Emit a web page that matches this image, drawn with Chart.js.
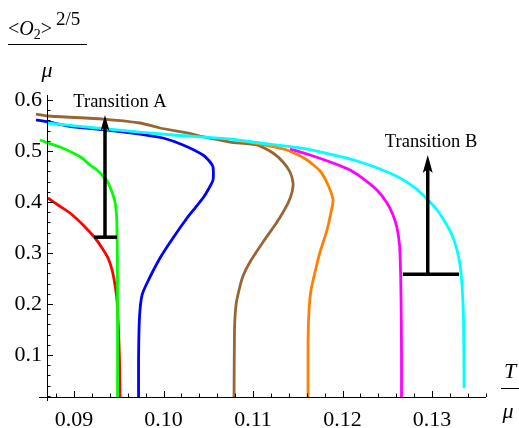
<!DOCTYPE html>
<html>
<head>
<meta charset="utf-8">
<script src="https://cdn.jsdelivr.net/npm/chart.js@4.4.1/dist/chart.umd.min.js"></script>
<style>
  html, body { margin: 0; padding: 0; background: #fff; }
</style>
</head>
<body>
<canvas id="chart" width="519" height="428"></canvas>
<script>
// x = T/mu, y = <O2>^(2/5)/mu
const redX = [0.08709, 0.08821, 0.08955, 0.09101, 0.09235, 0.09313, 0.09380, 0.09425, 0.09458, 0.09480, 0.09497, 0.09508, 0.09514];
const redY = [0.4078, 0.3941, 0.3784, 0.3549, 0.3294, 0.3098, 0.2902, 0.2667, 0.2373, 0.2078, 0.1490, 0.0902, 0.0150];

const greenX = [0.08620, 0.08709, 0.08844, 0.08989, 0.09089, 0.09179, 0.09257, 0.09313, 0.09369, 0.09402, 0.09436, 0.09458, 0.09475, 0.09480, 0.09484, 0.09486, 0.09486];
const greenY = [0.5216, 0.5157, 0.5078, 0.4961, 0.4863, 0.4725, 0.4627, 0.4529, 0.4412, 0.4294, 0.4137, 0.4000, 0.3745, 0.3451, 0.2863, 0.2078, 0.0150];

const blueX = [0.08575, 0.08709, 0.08989, 0.09369, 0.09737, 0.09994, 0.10218, 0.10441, 0.10520, 0.10553, 0.10553, 0.10497, 0.10441, 0.10352, 0.10263, 0.10106, 0.09961, 0.09816, 0.09760, 0.09737, 0.09726, 0.09721, 0.09721];
const blueY = [0.5608, 0.5569, 0.5471, 0.5412, 0.5333, 0.5255, 0.5118, 0.4922, 0.4784, 0.4686, 0.4431, 0.4235, 0.4078, 0.3882, 0.3686, 0.3294, 0.2902, 0.2412, 0.2176, 0.1882, 0.1490, 0.0902, 0.0150];

const brownX = [0.08575, 0.08709, 0.09324, 0.09737, 0.09961, 0.10263, 0.10408, 0.10743, 0.11045, 0.11223, 0.11335, 0.11413, 0.11447, 0.11436, 0.11391, 0.11268, 0.11112, 0.10966, 0.10888, 0.10844, 0.10810, 0.10793, 0.10788];
const brownY = [0.5725, 0.5686, 0.5627, 0.5549, 0.5451, 0.5353, 0.5294, 0.5176, 0.5118, 0.4961, 0.4784, 0.4588, 0.4373, 0.4196, 0.3980, 0.3608, 0.3216, 0.2824, 0.2549, 0.2275, 0.1980, 0.1490, 0.0150];

const orangeX = [0.10855, 0.11078, 0.11380, 0.11603, 0.11749, 0.11838, 0.11894, 0.11872, 0.11827, 0.11749, 0.11693, 0.11648, 0.11626, 0.11615, 0.11615];
const orangeY = [0.5196, 0.5137, 0.5020, 0.4824, 0.4608, 0.4333, 0.4039, 0.3804, 0.3451, 0.3020, 0.2627, 0.2275, 0.1882, 0.1294, 0.0150];

const magentaX = [0.11413, 0.11637, 0.11894, 0.12084, 0.12251, 0.12385, 0.12497, 0.12564, 0.12609, 0.12637, 0.12648, 0.12654, 0.12659, 0.12659];
const magentaY = [0.5039, 0.4922, 0.4765, 0.4627, 0.4431, 0.4235, 0.3980, 0.3745, 0.3490, 0.3157, 0.2667, 0.2078, 0.1098, 0.0150];

const cyanX = [0.08698, 0.09369, 0.10106, 0.10743, 0.11078, 0.11525, 0.11894, 0.12196, 0.12419, 0.12642, 0.12810, 0.12944, 0.13056, 0.13145, 0.13223, 0.13279, 0.13313, 0.13335, 0.13352, 0.13358];
const cyanY = [0.5549, 0.5431, 0.5314, 0.5235, 0.5157, 0.5059, 0.4922, 0.4784, 0.4647, 0.4471, 0.4275, 0.4059, 0.3843, 0.3608, 0.3353, 0.3059, 0.2765, 0.2373, 0.1686, 0.0353];

// transition markers: [x, yBar, yTip], bar spans [xFrom, xTo]
const transA = [0.09346, 0.331, 0.5706];
const transABar = [0.09224, 0.09480];
const transB = [0.12952, 0.2582, 0.4922];
const transBBar = [0.12673, 0.13302];
const transLabels = ["Transition A", "Transition B"];
const transLabelAt = [[0.09514, 0.596], [0.12989, 0.5176]];

// tick labels
const xTickLabels = [0.09, 0.10, 0.11, 0.12, 0.13];
const yTickLabels = [0.1, 0.2, 0.3, 0.4, 0.5, 0.6];

const xMin = 0.08698, xMax = 0.13603;
const yMin = 0.01765, yMax = 0.6098;

const curveColors = ["#ff0000", "#00ff00", "#0000ff", "#996633", "#ff8000", "#ff00ff", "#00ffff"];
const curves = [
  [redX, redY], [greenX, greenY], [blueX, blueY], [brownX, brownY],
  [orangeX, orangeY], [magentaX, magentaY], [cyanX, cyanY],
];

const toPoints = (xs, ys) => xs.map((x, i) => ({ x: x, y: ys[i] }));

// minor ticks every 1/5 of a major step
function minorTicks(majors, step, lo, hi) {
  const out = [];
  const first = majors[0] - step * Math.ceil((majors[0] - lo) / step);
  for (let v = first; v <= hi + 1e-9; v += step) {
    if (v >= lo - 1e-9) out.push(Math.round(v * 1e6) / 1e6);
  }
  return out;
}
const xTickValues = minorTicks(xTickLabels, 0.002, xMin, xMax);
const yTickValues = minorTicks(yTickLabels, 0.02, yMin, yMax);

const isMajor = (v, majors) => majors.some((m) => Math.abs(m - v) < 1e-7);

const datasets = [];
curves.forEach(([xs, ys], i) => {
  datasets.push({
    data: toPoints(xs, ys),
    borderColor: curveColors[i],
    borderWidth: 2.8,
    showLine: true,
    pointRadius: 0,
    tension: 0.2,
    order: 10 - i,
    clip: { left: 14, top: 4, right: 4, bottom: 0 },
  });
});
[[transA, transABar], [transB, transBBar]].forEach(([t, bar]) => {
  datasets.push({
    data: [{ x: bar[0], y: t[1] }, { x: bar[1], y: t[1] }],
    borderColor: "#000",
    borderWidth: 3.5,
    showLine: true,
    pointRadius: 0,
    order: 1,
  });
  datasets.push({
    data: [{ x: t[0], y: t[1] }, { x: t[0], y: t[2] - 0.02 }],
    borderColor: "#000",
    borderWidth: 3.5,
    showLine: true,
    pointRadius: 0,
    order: 1,
  });
});

const serif = "'Liberation Serif', 'Times New Roman', serif";

// Mathematica-like axes: inward ticks, arrow heads, annotations and axis titles
const mathAxes = {
  id: "mathAxes",
  afterDraw(chart) {
    const { ctx, chartArea: a } = chart;
    const xs = chart.scales.x, ys = chart.scales.y;
    ctx.save();
    ctx.strokeStyle = "#000";
    ctx.lineWidth = 1;
    ctx.beginPath();
    ctx.moveTo(a.left - 8, a.bottom + 0.5);
    ctx.lineTo(a.right, a.bottom + 0.5);
    ctx.moveTo(a.left + 0.5, a.top);
    ctx.lineTo(a.left + 0.5, a.bottom + 4);
    xs.ticks.forEach((t) => {
      const px = Math.round(xs.getPixelForValue(t.value)) + 0.5;
      const len = isMajor(t.value, xTickLabels) ? 6 : 3.5;
      ctx.moveTo(px, a.bottom);
      ctx.lineTo(px, a.bottom - len);
    });
    ys.ticks.forEach((t) => {
      const py = Math.round(ys.getPixelForValue(t.value)) + 0.5;
      const len = isMajor(t.value, yTickLabels) ? 6 : 3.5;
      ctx.moveTo(a.left, py);
      ctx.lineTo(a.left + len, py);
    });
    ctx.stroke();

    // arrow heads
    ctx.fillStyle = "#000";
    [[transA, 9, 16], [transB, 10, 18]].forEach(([t, w, h]) => {
      const px = xs.getPixelForValue(t[0]);
      const py = ys.getPixelForValue(t[2]);
      ctx.beginPath();
      ctx.moveTo(px, py);
      ctx.lineTo(px - w / 2, py + h);
      ctx.lineTo(px, py + h - 4);
      ctx.lineTo(px + w / 2, py + h);
      ctx.closePath();
      ctx.fill();
    });

    // annotations
    ctx.font = "18.5px " + serif;
    ctx.textAlign = "center";
    ctx.textBaseline = "middle";
    transLabels.forEach((s, i) => {
      ctx.fillText(s, xs.getPixelForValue(transLabelAt[i][0]), ys.getPixelForValue(transLabelAt[i][1]));
    });

    // y axis title  <O2>^(2/5) / mu
    ctx.textAlign = "left";
    ctx.textBaseline = "alphabetic";
    let x = 8;
    const base = 35;
    const put = (s, font, dy) => {
      ctx.font = font;
      ctx.fillText(s, x, base + dy);
      x += ctx.measureText(s).width;
    };
    put("<", "20px " + serif, 0);
    put("O", "italic 20px " + serif, 0);
    put("2", "14px " + serif, 4);
    put(">", "20px " + serif, 0);
    x += 4;
    put("2/5", "19px " + serif, -10);
    ctx.beginPath();
    ctx.moveTo(8, 44.5);
    ctx.lineTo(87, 44.5);
    ctx.stroke();
    ctx.textAlign = "center";
    ctx.font = "italic 22px " + serif;
    ctx.fillText("\u03bc", 47, 77);

    // x axis title  T / mu
    ctx.fillText("T", 510, 378);
    ctx.beginPath();
    ctx.moveTo(501, 388.5);
    ctx.lineTo(519, 388.5);
    ctx.stroke();
    ctx.fillText("\u03bc", 508, 418);
    ctx.restore();
  },
};

new Chart(document.getElementById("chart").getContext("2d"), {
  type: "scatter",
  data: { datasets: datasets },
  options: {
    responsive: false,
    animation: false,
    events: [],
    layout: { padding: { top: 95, right: 33, left: 0, bottom: 0 } },
    plugins: { legend: { display: false }, tooltip: { enabled: false } },
    scales: {
      x: {
        type: "linear",
        min: xMin,
        max: xMax,
        afterFit: (s) => { s.height = 31; },
        afterBuildTicks: (s) => { s.ticks = xTickValues.map((v) => ({ value: v })); },
        grid: { display: false, drawTicks: false },
        border: { display: false },
        ticks: {
          autoSkip: false,
          maxRotation: 0,
          padding: 10,
          color: "#000",
          font: { family: serif, size: 22 },
          callback: (v) => (isMajor(v, xTickLabels) ? v.toFixed(2) : ""),
        },
      },
      y: {
        type: "linear",
        min: yMin,
        max: yMax,
        afterFit: (s) => { s.width = 47; },
        afterBuildTicks: (s) => { s.ticks = yTickValues.map((v) => ({ value: v })); },
        grid: { display: false, drawTicks: false },
        border: { display: false },
        ticks: {
          autoSkip: false,
          padding: 5,
          color: "#000",
          font: { family: serif, size: 22 },
          callback: (v) => (isMajor(v, yTickLabels) ? v.toFixed(1) : ""),
        },
      },
    },
  },
  plugins: [mathAxes],
});
</script>
</body>
</html>
